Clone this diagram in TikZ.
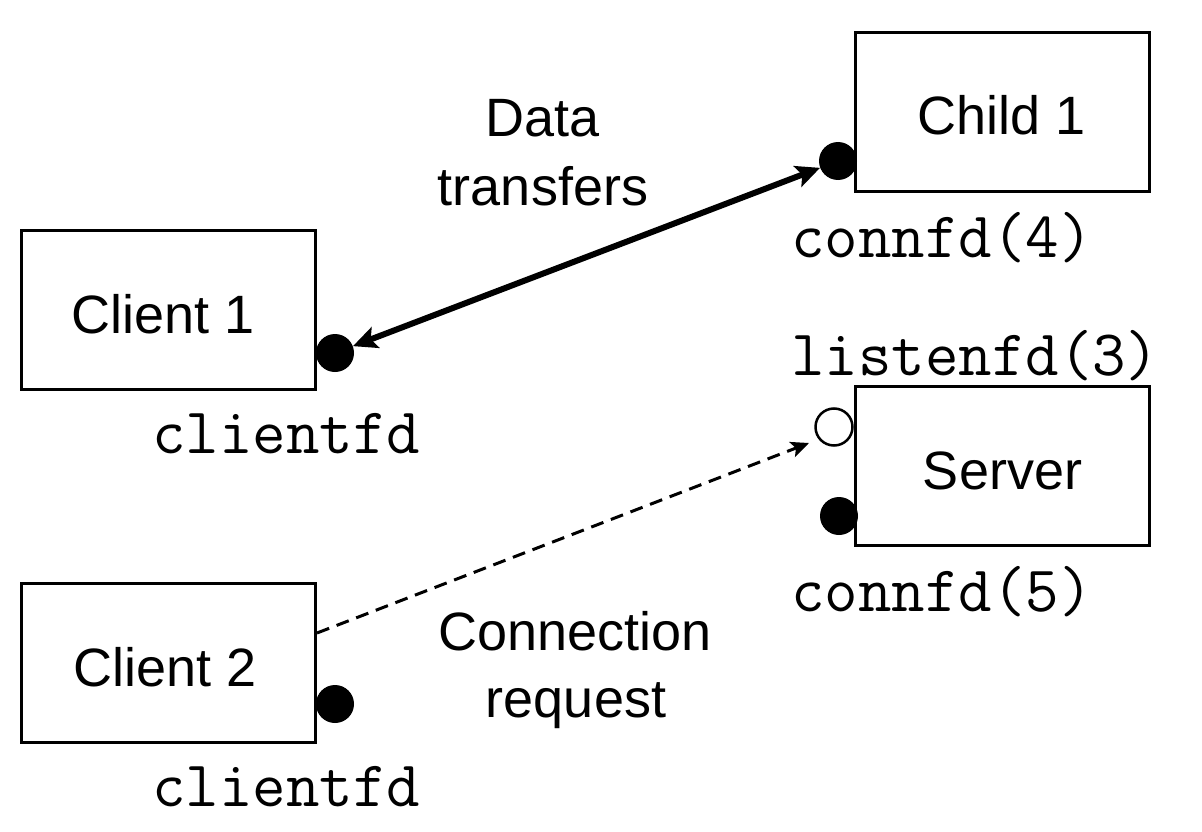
\documentclass[tikz,border=0pt]{standalone}
\usepackage{fontspec}
\setmainfont{Liberation Sans}
\usetikzlibrary{arrows.meta}
\begin{document}
\begin{tikzpicture}[x=1pt,y=-1pt,
 boxnode/.style={draw,line width=3pt,minimum width=294pt,minimum height=159pt,inner sep=0pt,text height=46pt,text depth=0pt,font=\fontsize{54}{64}\selectfont},
 lbl/.style={anchor=base,inner sep=0pt,font=\fontsize{54}{64}\selectfont},
 code/.style={anchor=base west,inner sep=0pt,font=\fontsize{65}{72}\selectfont\ttfamily},
 fdot/.style={circle,fill=black,minimum size=38pt,inner sep=0pt},
 hdot/.style={circle,draw,line width=2.5pt,fill=white,minimum size=37pt,inner sep=0pt},
 datarrow/.style={line width=6pt,{Stealth[length=24pt,width=22pt,inset=5pt]}-{Stealth[length=24pt,width=22pt,inset=5pt]}},
 reqarrow/.style={line width=3pt,dash pattern=on 13pt off 8pt,-{Stealth[length=18pt,width=16pt,inset=4pt]}},
]
\useasboundingbox (0,0) rectangle (1202,832);

% boxes
\node[boxnode] (child1) at (1002,112) {Child 1};
\node[boxnode] (client1) at (168.5,310) {\hspace*{-10pt}Client 1};
\node[boxnode] (server) at (1002.5,466) {Server};
\node[boxnode] (client2) at (168.5,663) {\hspace*{-6pt}Client 2};

% descriptors
\node[fdot] (ch1dot) at (838,161) {};
\node[fdot] (c1dot) at (335,353) {};
\node[hdot] (listen) at (834,427) {};
\node[fdot] (srvdot) at (839,516) {};
\node[fdot] (c2dot) at (335,704) {};

% code labels
\node[code] (lconn4) at (791,257) {connfd(4)};
\node[code] (llisten) at (791,375) {listenfd(3)};
\node[code] (lconn5) at (791,611) {connfd(5)};
\node[code] (lcfd1) at (152,453) {clientfd};
\node[code] (lcfd2) at (152,806) {clientfd};

% text labels
\node[lbl] (data1) at (543,137) {Data};
\node[lbl] (data2) at (543,205) {transfers};
\node[lbl] (conn1) at (575,650) {Connection};
\node[lbl] (conn2) at (576,717) {request};

% connectors
\draw[datarrow] (c1dot) -- (ch1dot);
\coordinate (reqend) at (809,443);
\draw[reqarrow] ([yshift=30pt]client2.east) -- (reqend);
\end{tikzpicture}
\end{document}
